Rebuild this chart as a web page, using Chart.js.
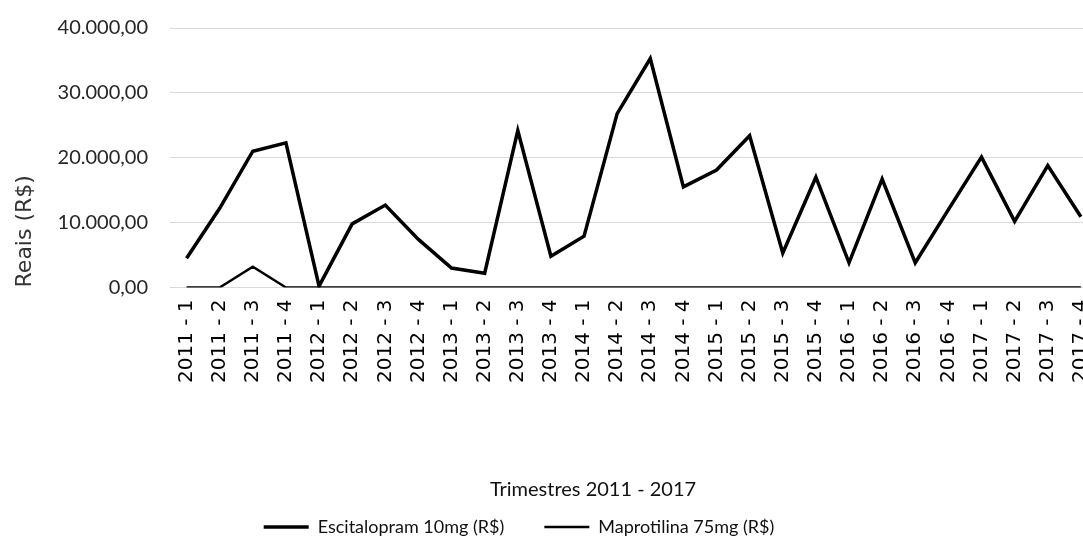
<!DOCTYPE html>
<html lang="pt-BR">
<head>
<meta charset="utf-8">
<title>Escitalopram x Maprotilina</title>
<script src="https://cdn.jsdelivr.net/npm/chart.js@4.4.1/dist/chart.umd.min.js"></script>
<style>
    html, body { margin: 0; padding: 0; background: #fff; overflow: hidden; }
    #wrap { position: relative; width: 1083px; height: 554px; overflow: hidden; }
    #grafico { position: absolute; left: 0; top: 0; }
</style>
</head>
<body>
<div id="wrap">
    <canvas id="grafico" width="1117" height="554"></canvas>
</div>
<script>
// Trimestres 2011 - 2017
const trimestres = [
    '2011 - 1', '2011 - 2', '2011 - 3', '2011 - 4',
    '2012 - 1', '2012 - 2', '2012 - 3', '2012 - 4',
    '2013 - 1', '2013 - 2', '2013 - 3', '2013 - 4',
    '2014 - 1', '2014 - 2', '2014 - 3', '2014 - 4',
    '2015 - 1', '2015 - 2', '2015 - 3', '2015 - 4',
    '2016 - 1', '2016 - 2', '2016 - 3', '2016 - 4',
    '2017 - 1', '2017 - 2', '2017 - 3', '2017 - 4'
];

// Gastos em reais
const escitalopram = [
    4500, 12200, 21000, 22300,
    200, 9800, 12700, 7400,
    3000, 2200, 24200, 4800,
    7900, 26800, 35300, 15500,
    18100, 23400, 5300, 17000,
    3800, 16700, 3800, 12000,
    20100, 10200, 18800, 10900
];
const maprotilina = [
    0, 0, 3200, 0,
    0, 0, 0, 0,
    0, 0, 0, 0,
    0, 0, 0, 0,
    0, 0, 0, 0,
    0, 0, 0, 0,
    0, 0, 0, 0
];

// Eixo Y: 0,00 a 40.000,00
const yMin = 0;
const yMax = 40000;
const yPasso = 10000;

// formato brasileiro: 40.000,00
function formatoReal(v) {
    const partes = Number(v).toFixed(2).split('.');
    return partes[0].replace(/\B(?=(\d{3})+(?!\d))/g, '.') + ',' + partes[1];
}

const fonteTexto = "Lato, 'DejaVu Sans Condensed', sans-serif";

// desloca o título e a legenda como no original
const ajusteCaixas = {
    id: 'ajusteCaixas',
    afterLayout(chart) {
        const t = chart.titleBlock;
        if (t) { t.left += 38; t.right += 38; t.top += 26; t.bottom += 26; }
        const l = chart.legend;
        if (l) { l.left -= 36; l.right -= 36; }
    }
};

new Chart(document.getElementById('grafico').getContext('2d'), {
    type: 'line',
    data: {
        labels: trimestres,
        datasets: [
            {
                label: 'Escitalopram 10mg (R$)',
                data: escitalopram,
                borderColor: '#000',
                backgroundColor: '#000',
                borderWidth: 3.5,
                pointRadius: 0,
                tension: 0,
                fill: false
            },
            {
                label: 'Maprotilina 75mg (R$)',
                data: maprotilina,
                borderColor: '#000',
                backgroundColor: '#000',
                borderWidth: 2.5,
                pointRadius: 0,
                tension: 0,
                fill: false
            }
        ]
    },
    options: {
        responsive: false,
        animation: false,
        layout: {
            padding: { left: 0, right: 7, top: 28, bottom: 8 }
        },
        plugins: {
            tooltip: { enabled: false },
            title: {
                display: true,
                position: 'bottom',
                weight: 500,
                text: 'Trimestres 2011 - 2017',
                color: '#111',
                font: { family: fonteTexto, size: 20, weight: 'normal' },
                padding: { top: 57, bottom: 2 }
            },
            legend: {
                display: true,
                position: 'bottom',
                weight: 1000,
                labels: {
                    color: '#111',
                    font: { family: fonteTexto, size: 18 },
                    usePointStyle: true,
                    pointStyle: 'line',
                    pointStyleWidth: 45,
                    padding: 40
                }
            }
        },
        scales: {
            x: {
                offset: true,
                grid: { display: false, drawTicks: false },
                border: { display: false },
                ticks: {
                    autoSkip: false,
                    minRotation: 90,
                    maxRotation: 90,
                    padding: 12,
                    color: '#000',
                    font: { family: "'DejaVu Sans', sans-serif", size: 20 }
                }
            },
            y: {
                min: yMin,
                max: yMax,
                afterFit(scale) { scale.width = 170; },
                grid: {
                    color: '#d9d9d9',
                    lineWidth: 1,
                    drawTicks: true,
                    tickLength: 22,
                    tickColor: 'rgba(0,0,0,0)'
                },
                border: { display: false },
                ticks: {
                    stepSize: yPasso,
                    padding: 0,
                    color: '#262626',
                    font: { family: fonteTexto, size: 20 },
                    callback: v => formatoReal(v)
                },
                title: {
                    display: true,
                    text: 'Reais (R$)',
                    align: 'start',
                    color: '#333',
                    font: { family: "'DejaVu Sans', sans-serif", size: 22 },
                    padding: { top: 12, bottom: 0 }
                }
            }
        }
    },
    plugins: [ajusteCaixas]
});
</script>
</body>
</html>
